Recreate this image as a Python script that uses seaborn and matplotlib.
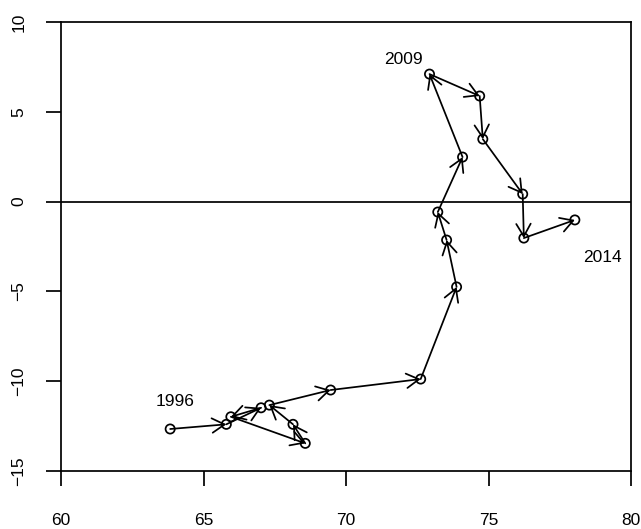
import matplotlib
matplotlib.use("Agg")
import matplotlib.pyplot as plt
import seaborn as sns
import pandas as pd

# Yearly trajectory: x / y coordinates per year
years = [1996, 1997, 1998, 1999, 2000, 2001, 2002, 2003, 2004, 2005,
         2006, 2007, 2008, 2009, 2010, 2011, 2012, 2013, 2014]
x_vals = [63.83, 65.80, 67.02, 65.96, 68.57, 68.14, 67.31, 69.46, 72.62, 73.88,
          73.53, 73.22, 74.09, 72.93, 74.69, 74.80, 76.20, 76.24, 78.03]
y_vals = [-12.66, -12.40, -11.48, -11.98, -13.46, -12.40, -11.33, -10.49, -9.88, -4.75,
          -2.14, -0.58, 2.48, 7.10, 5.88, 3.48, 0.42, -2.03, -1.02]

# Years that get a text label, and where the label sits
label_years = [1996, 2009, 2014]
label_x = [64.0, 72.0, 79.0]
label_y = [-11.15, 7.9, -3.12]

x_ticks = [60, 65, 70, 75, 80]
y_ticks = [-15, -10, -5, 0, 5, 10]

df = pd.DataFrame({"year": years, "x": x_vals, "y": y_vals})

sns.set_style("ticks")
plt.rcParams["font.family"] = ["Liberation Sans", "DejaVu Sans"]

LW = 1.25

fig = plt.figure(figsize=(6.41, 5.29), dpi=100)
ax = fig.add_axes([0.0952, 0.1096, 0.8892, 0.8488])

# Reference line at zero
ax.axhline(0, color="black", lw=LW, zorder=1)

# Arrows from each year to the next
for i in range(len(df) - 1):
    ax.annotate(
        "",
        xy=(df.x[i + 1], df.y[i + 1]),
        xytext=(df.x[i], df.y[i]),
        arrowprops=dict(
            arrowstyle="->,head_length=0.9,head_width=0.52",
            color="black", lw=LW, shrinkA=0, shrinkB=0,
            mutation_scale=10,
        ),
        zorder=2,
    )

# Open circles at each year
sns.scatterplot(data=df, x="x", y="y", ax=ax, marker="o", s=44,
                facecolor="none", edgecolor="black", linewidth=LW,
                zorder=3, legend=False)

for yr, lx, ly in zip(label_years, label_x, label_y):
    ax.text(lx, ly, str(yr), ha="center", va="center", fontsize=12.5, color="black")

ax.set_xlim(60, 80)
ax.set_ylim(-15, 10)
ax.set_xticks(x_ticks)
ax.set_yticks(y_ticks)
ax.set_xlabel("")
ax.set_ylabel("")

for sp in ax.spines.values():
    sp.set_visible(True)
    sp.set_linewidth(LW)
    sp.set_color("black")

ax.tick_params(axis="both", direction="out", length=11, width=LW,
               colors="black", labelsize=12.5)
ax.tick_params(axis="x", pad=19)
ax.tick_params(axis="y", pad=14)
for lab in ax.get_yticklabels():
    lab.set_rotation(90)
    lab.set_va("center")

fig.savefig("out.png", dpi=100)
